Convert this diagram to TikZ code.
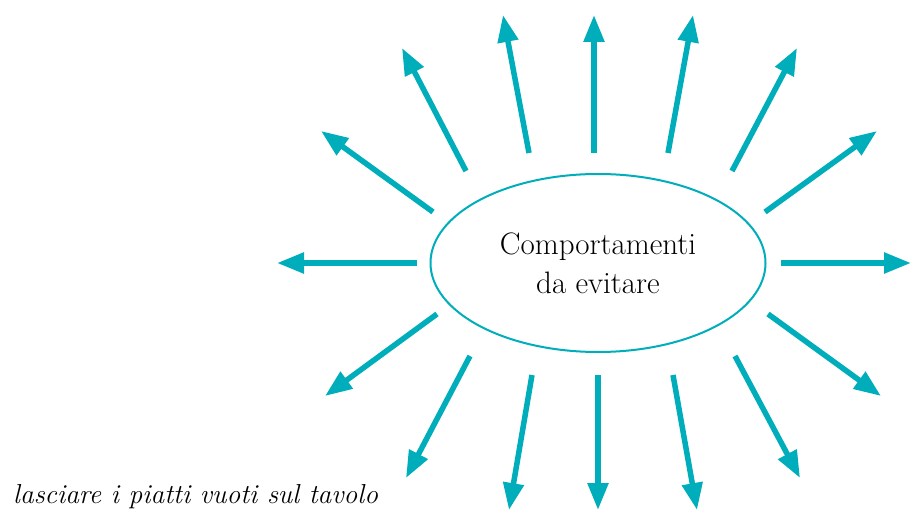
\documentclass[tikz,border=0pt]{standalone}
\usepackage{xcolor}
\usepackage{tikz}
\usetikzlibrary{shapes.geometric, positioning, arrows.meta}

\definecolor{rayteal}{HTML}{00ADBB}

\begin{document}
\begin{tikzpicture}[x=1pt, y=-1pt, >={Triangle[length=27pt, width=20pt]},
    ray/.style={->, color=rayteal, line width=5.5pt}]
                \useasboundingbox (0,0) rectangle (911,511);
                \node[ellipse, draw=rayteal, line width=2pt, minimum width=335pt, minimum height=178pt,
                      align=center, font=\fontsize{31}{39}\selectfont] (core) at (598,263)
                      {Comportamenti\\da evitare};
                \node[anchor=base west, inner sep=0pt, font=\fontsize{27.4}{32}\selectfont\itshape]
                      (hint) at (13,503) {lasciare i piatti vuoti sul tavolo};

                % start points near the ellipse
                \coordinate (s1) at (594,153);
                \coordinate (s2) at (529,153);
                \coordinate (s3) at (466,171);
                \coordinate (s4) at (433,212);
                \coordinate (s5) at (417,263);
                \coordinate (s6) at (437,314);
                \coordinate (s7) at (470,356);
                \coordinate (s8) at (532,375);
                \coordinate (s9) at (598,375);
                \coordinate (s10) at (673,375);
                \coordinate (s11) at (735,356);
                \coordinate (s12) at (768,314);
                \coordinate (s13) at (781,263);
                \coordinate (s14) at (765,212);
                \coordinate (s15) at (732,171);
                \coordinate (s16) at (668,153);
                % tips
                \coordinate (t1) at (594,15);
                \coordinate (t2) at (503,15);
                \coordinate (t3) at (402,48);
                \coordinate (t4) at (321,131);
                \coordinate (t5) at (277,263);
                \coordinate (t6) at (325,396);
                \coordinate (t7) at (406,478);
                \coordinate (t8) at (509,510);
                \coordinate (t9) at (598,510);
                \coordinate (t10) at (697,510);
                \coordinate (t11) at (800,478);
                \coordinate (t12) at (881,396);
                \coordinate (t13) at (911,263);
                \coordinate (t14) at (877,131);
                \coordinate (t15) at (797,48);
                \coordinate (t16) at (693,15);

                \path[ray]
                (s1) edge (t1)
                (s2) edge (t2)
                (s3) edge (t3)
                (s4) edge (t4)
                (s5) edge (t5)
                (s6) edge (t6)
                (s7) edge (t7)
                (s8) edge (t8)
                (s9) edge (t9)
                (s10) edge (t10)
                (s11) edge (t11)
                (s12) edge (t12)
                (s13) edge (t13)
                (s14) edge (t14)
                (s15) edge (t15)
                (s16) edge (t16);
            \end{tikzpicture}
\end{document}
